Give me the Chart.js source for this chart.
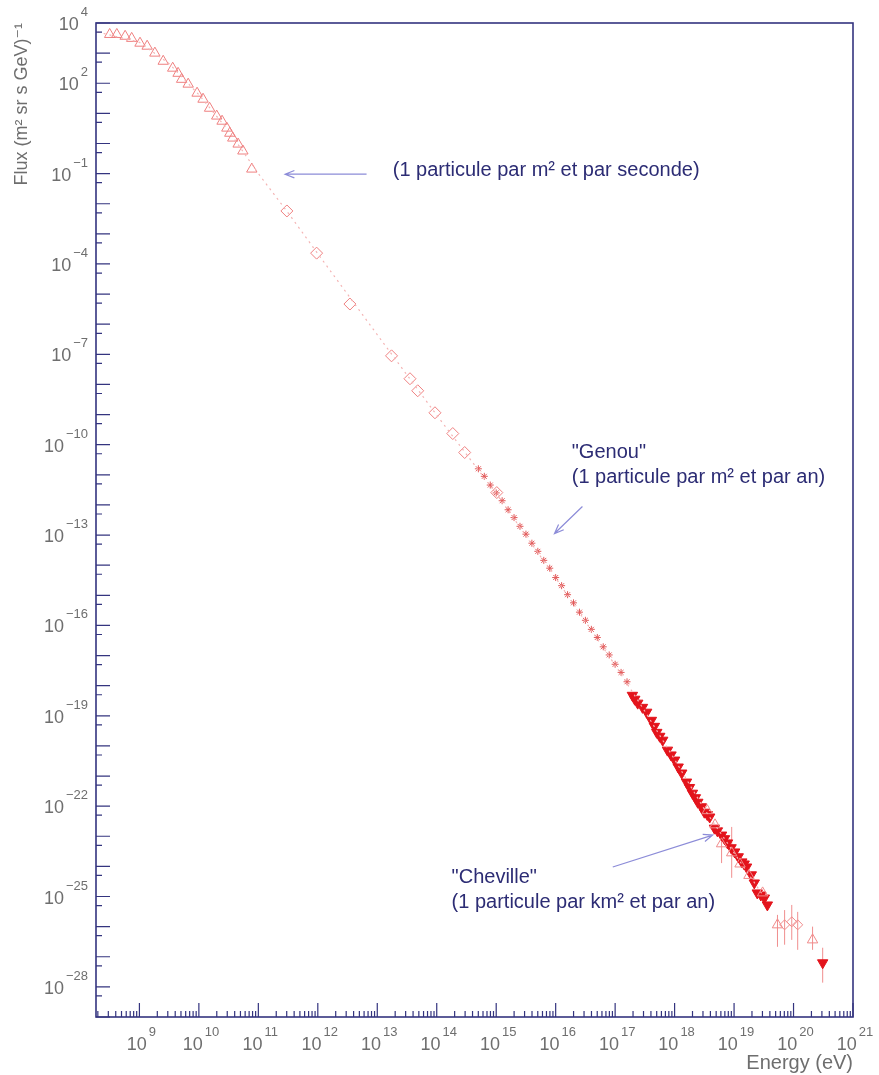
<!DOCTYPE html>
<html>
<head>
<meta charset="utf-8">
<script src="https://cdn.jsdelivr.net/npm/chart.js@4.4.0/dist/chart.umd.min.js"></script>
<style>
  html, body { margin: 0; padding: 0; background: #fff; }
  #wrap { width: 879px; height: 1075px; position: relative; }
</style>
</head>
<body>
<div id="wrap"><canvas id="flux"></canvas></div>
<script>
// all values are log10: energy in eV, flux in (m2 sr s GeV)^-1

// low energy (open triangles)
const lowE = [8.50, 8.62, 8.76, 8.87, 9.01, 9.13, 9.26, 9.40, 9.56, 9.65, 9.71, 9.82,
              9.97, 10.07, 10.18, 10.30, 10.39, 10.47, 10.52, 10.57, 10.66, 10.74, 10.89];
const lowF = [3.62, 3.62, 3.56, 3.49, 3.33, 3.23, 3.00, 2.73, 2.50, 2.33, 2.13, 1.97,
              1.67, 1.47, 1.17, 0.91, 0.74, 0.51, 0.34, 0.18, -0.02, -0.25, -0.85];

// open diamonds
const diaE = [11.48, 11.98, 12.54, 13.24, 13.55, 13.68, 13.97, 14.27, 14.47, 15.01];
const diaF = [-2.24, -3.64, -5.33, -7.05, -7.81, -8.21, -8.94, -9.63, -10.26, -11.59];

// small stars around the knee
const starE = [14.70, 14.80, 14.90, 15.00, 15.10, 15.20, 15.30, 15.40, 15.50, 15.60, 15.70, 15.80, 15.90,
               16.00, 16.10, 16.20, 16.30, 16.40, 16.50, 16.60, 16.70, 16.80, 16.90, 17.00, 17.10, 17.20];
const starF = [-10.80, -11.05, -11.34, -11.60, -11.86, -12.16, -12.42, -12.71, -12.97, -13.27, -13.54, -13.84, -14.10,
               -14.41, -14.68, -14.98, -15.25, -15.56, -15.83, -16.13, -16.40, -16.71, -16.98, -17.29, -17.56, -17.87];

// filled down triangles
const hiresE = [17.29, 17.33, 17.38, 17.46, 17.53, 17.61, 17.66, 17.70, 17.75, 17.80, 17.88, 17.94, 18.00,
                18.06, 18.12, 18.20, 18.25, 18.30, 18.35, 18.39, 18.45, 18.50, 18.55, 18.59, 18.67, 18.72,
                18.79, 18.84, 18.89, 18.95, 19.01, 19.07, 19.13, 19.17, 19.21, 19.29, 19.34, 19.39, 19.45,
                19.51, 19.56, 20.49];
const hiresF = [-18.32, -18.45, -18.58, -18.72, -18.88, -19.15, -19.35, -19.55, -19.68, -19.81, -20.14, -20.30, -20.47,
                -20.70, -20.90, -21.20, -21.38, -21.57, -21.72, -21.87, -22.02, -22.20, -22.28, -22.36, -22.73, -22.82,
                -22.96, -23.08, -23.22, -23.38, -23.52, -23.68, -23.85, -23.92, -24.02, -24.28, -24.55, -24.88, -24.95,
                -25.05, -25.28, -27.20];

// open triangles at the highest energies
const agasaE = [18.55, 18.68, 18.79, 18.96, 19.10, 19.25, 19.48, 19.73, 20.32];
const agasaF = [-22.15, -22.62, -23.25, -23.55, -23.92, -24.30, -24.88, -25.94, -26.44];

// open diamonds at the highest energies
const topDiaE = [19.85, 19.97, 20.07];
const topDiaF = [-25.94, -25.84, -25.94];

// vertical error bars
const errE  = [18.79, 18.96, 19.73, 19.85, 19.97, 20.07, 20.32, 20.49];
const errLo = [-23.89, -24.38, -26.67, -26.60, -26.44, -26.77, -26.77, -27.86];
const errHi = [-22.89, -22.69, -25.61, -25.45, -25.28, -25.51, -26.00, -26.70];

// faint dotted guide through the points
const guideE = [8.30, 9.00, 9.50, 10.00, 10.50, 11.00, 11.50, 12.00, 13.00, 14.00, 14.50, 15.00,
                16.00, 17.00, 17.50, 18.00, 18.50, 19.00, 19.50];
const guideF = [3.70, 3.36, 2.65, 1.62, 0.42, -1.00, -2.30, -3.66, -6.35, -9.02, -10.32, -11.62,
                -14.42, -17.32, -18.85, -20.45, -22.10, -23.55, -25.00];

// axis labels (exponents)
const xLabelExp = [9, 10, 11, 12, 13, 14, 15, 16, 17, 18, 19, 20, 21];
const yLabelExp = [4, 2, -1, -4, -7, -10, -13, -16, -19, -22, -25, -28];

const xMinExp = 8.27, xMaxExp = 21;
const yMinExp = -29, yMaxExp = 4;

// text notes, anchored in data space
const notes = [
  { lines: ['(1 particule par m\u00b2 et par seconde)'], at: [13.26, -0.90],
    arrow: [[12.82, -1.02], [11.45, -1.02]] },
  { lines: ['"Genou"', '(1 particule par m\u00b2 et par an)'], at: [16.27, -10.26],
    arrow: [[16.45, -12.05], [15.98, -12.95]] },
  { lines: ['"Cheville"', '(1 particule par km\u00b2 et par an)'], at: [14.25, -24.38],
    arrow: [[16.96, -24.02], [18.64, -22.96]] }
];

const pts = (xs, ys) => xs.map((e, i) => ({ x: 10 ** e, y: 10 ** ys[i] }));
const expText = e => String(e).replace('-', '\u2212');

const FONT = '"Liberation Sans", "DejaVu Sans", Arial, sans-serif';
const GREY = '#6e6e6e';
const NAVY = '#34347f';

function drawArrow(ctx, x0, y0, x1, y1) {
    const a = Math.atan2(y1 - y0, x1 - x0), h = 10, s = 0.38;
    ctx.beginPath();
    ctx.moveTo(x0, y0);
    ctx.lineTo(x1, y1);
    ctx.moveTo(x1 - h * Math.cos(a - s), y1 - h * Math.sin(a - s));
    ctx.lineTo(x1, y1);
    ctx.lineTo(x1 - h * Math.cos(a + s), y1 - h * Math.sin(a + s));
    ctx.stroke();
}

// "10" with a raised exponent, the way the original axes print it
function drawPow(ctx, e, x, y, align) {
    const base = '10', ex = expText(e);
    ctx.font = '18px ' + FONT;
    const wb = ctx.measureText(base).width;
    ctx.font = '13px ' + FONT;
    const we = ctx.measureText(ex).width;
    const gap = 2;
    let left;
    if (align === 'right') left = x - wb - gap - we;
    else left = x - (wb + gap + we) / 2;
    ctx.textAlign = 'left';
    ctx.textBaseline = 'alphabetic';
    ctx.font = '18px ' + FONT;
    ctx.fillText(base, left, y + 7);
    ctx.font = '13px ' + FONT;
    ctx.fillText(ex, left + wb + gap, y - 7);
}

const decor = {
    id: 'decor',
    beforeDatasetsDraw(chart) {
        const { ctx, scales: { x, y } } = chart;
        ctx.save();
        ctx.strokeStyle = '#f08e8e';
        ctx.lineWidth = 1;
        errE.forEach((e, i) => {
            const px = x.getPixelForValue(10 ** e);
            ctx.beginPath();
            ctx.moveTo(px, y.getPixelForValue(10 ** errLo[i]));
            ctx.lineTo(px, y.getPixelForValue(10 ** errHi[i]));
            ctx.stroke();
        });
        ctx.restore();
    },
    afterDatasetsDraw(chart) {
        const { ctx, chartArea: a, scales: { x, y } } = chart;
        ctx.save();

        // inward tick marks, left and bottom only
        ctx.strokeStyle = NAVY;
        ctx.lineWidth = 1.2;
        ctx.beginPath();
        for (let d = yMinExp; d <= yMaxExp; d++) {
            const py = y.getPixelForValue(10 ** d);
            ctx.moveTo(a.left, py); ctx.lineTo(a.left + 14, py);
            const ps = y.getPixelForValue(5 * 10 ** (d - 1));
            if (ps <= a.bottom) { ctx.moveTo(a.left, ps); ctx.lineTo(a.left + 6, ps); }
        }
        for (let d = 8; d <= xMaxExp; d++) {
            for (let m = 1; m <= 9; m++) {
                const v = m * 10 ** d;
                if (Math.log10(v) < xMinExp || Math.log10(v) > xMaxExp + 1e-9) continue;
                const pxv = x.getPixelForValue(v);
                ctx.moveTo(pxv, a.bottom); ctx.lineTo(pxv, a.bottom - (m === 1 ? 14 : 6));
            }
        }
        ctx.stroke();

        // frame
        ctx.lineWidth = 1.6;
        ctx.strokeRect(a.left, a.top, a.right - a.left, a.bottom - a.top);

        // tick labels
        ctx.fillStyle = GREY;
        yLabelExp.forEach(e => drawPow(ctx, e, a.left - 8, y.getPixelForValue(10 ** e), 'right'));
        xLabelExp.forEach(e => drawPow(ctx, e, x.getPixelForValue(10 ** e) + 2, a.bottom + 26, 'center'));

        // notes
        ctx.font = '20px ' + FONT;
        ctx.textBaseline = 'middle';
        ctx.textAlign = 'left';
        notes.forEach(n => {
            const tx = x.getPixelForValue(10 ** n.at[0]);
            const ty = y.getPixelForValue(10 ** n.at[1]);
            ctx.fillStyle = '#2c2c74';
            n.lines.forEach((t, i) => ctx.fillText(t, tx, ty + i * 25));
            ctx.strokeStyle = '#8c8cd8';
            ctx.lineWidth = 1.2;
            const [p0, p1] = n.arrow;
            drawArrow(ctx,
                x.getPixelForValue(10 ** p0[0]), y.getPixelForValue(10 ** p0[1]),
                x.getPixelForValue(10 ** p1[0]), y.getPixelForValue(10 ** p1[1]));
        });
        ctx.restore();
    }
};

Chart.defaults.font.family = FONT;

new Chart(document.getElementById('flux'), {
    type: 'scatter',
    data: {
        datasets: [
            {
                label: 'guide',
                data: pts(guideE, guideF),
                showLine: true,
                borderColor: '#f4b4b4',
                borderWidth: 1.2,
                borderDash: [2, 4],
                pointRadius: 0
            },
            {
                label: 'low energy',
                data: pts(lowE, lowF),
                pointStyle: 'triangle',
                pointRadius: 6,
                borderColor: '#ef8080',
                backgroundColor: 'rgba(0,0,0,0)',
                borderWidth: 1
            },
            {
                label: 'diamonds',
                data: pts(diaE, diaF),
                pointStyle: 'rectRot',
                pointRadius: 6,
                borderColor: '#ef8080',
                backgroundColor: 'rgba(0,0,0,0)',
                borderWidth: 1
            },
            {
                label: 'knee',
                data: pts(starE, starF),
                pointStyle: 'star',
                pointRadius: 3.5,
                borderColor: '#e25a5a',
                backgroundColor: 'rgba(0,0,0,0)',
                borderWidth: 1
            },
            {
                label: 'open high',
                data: pts(agasaE, agasaF),
                pointStyle: 'triangle',
                pointRadius: 6,
                borderColor: '#f08a8a',
                backgroundColor: 'rgba(0,0,0,0)',
                borderWidth: 1
            },
            {
                label: 'open diamonds high',
                data: pts(topDiaE, topDiaF),
                pointStyle: 'rectRot',
                pointRadius: 5,
                borderColor: '#f08a8a',
                backgroundColor: 'rgba(0,0,0,0)',
                borderWidth: 1
            },
            {
                label: 'filled high',
                data: pts(hiresE, hiresF),
                pointStyle: 'triangle',
                pointRotation: 180,
                pointRadius: 6,
                borderColor: '#e3141c',
                backgroundColor: '#e3141c',
                borderWidth: 1
            }
        ]
    },
    options: {
        responsive: true,
        maintainAspectRatio: false,
        animation: false,
        events: [],
        layout: { padding: { top: 23, right: 26, left: 0, bottom: 0 } },
        plugins: {
            legend: { display: false },
            tooltip: { enabled: false }
        },
        scales: {
            x: {
                type: 'logarithmic',
                min: 10 ** xMinExp,
                max: 10 ** xMaxExp,
                grid: { display: false, drawTicks: false },
                border: { display: false },
                afterBuildTicks: s => { s.ticks = xLabelExp.map(e => ({ value: 10 ** e })); },
                afterFit: s => { s.height = 58; },
                ticks: { display: false },
                title: {
                    display: true,
                    text: 'Energy (eV)',
                    align: 'end',
                    color: GREY,
                    font: { size: 20 },
                    padding: { top: 0, bottom: 0 }
                }
            },
            y: {
                type: 'logarithmic',
                min: 10 ** yMinExp,
                max: 10 ** yMaxExp,
                grid: { display: false, drawTicks: false },
                border: { display: false },
                afterBuildTicks: s => { s.ticks = yLabelExp.map(e => ({ value: 10 ** e })); },
                afterFit: s => { s.width = 96; },
                ticks: { display: false },
                title: {
                    display: true,
                    text: 'Flux (m\u00b2 sr s GeV)\u207b\u00b9',
                    align: 'end',
                    color: GREY,
                    font: { size: 18 },
                    padding: { top: 11, bottom: 0 }
                }
            }
        }
    },
    plugins: [decor]
});
</script>
</body>
</html>
